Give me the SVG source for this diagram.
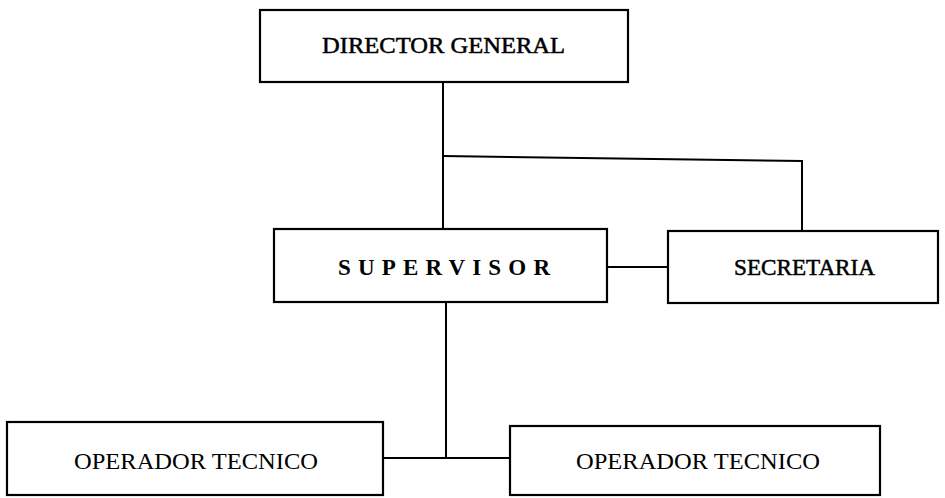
<svg xmlns="http://www.w3.org/2000/svg" width="945" height="498" viewBox="0 0 945 498">
<style>
.box{fill:#fff;stroke:#000;stroke-width:2.2}
.lbl{font-family:"Liberation Serif","Times New Roman",serif;font-size:23px;fill:#000}
.dark{stroke:#000;stroke-width:0.5}
.con{fill:none;stroke:#000;stroke-width:2}
</style>
<rect width="945" height="498" fill="#fff"/>
<g id="connectors">
<line class="con" x1="443" y1="82" x2="443" y2="229"/>
<polyline class="con" points="443,156 802,161 802,231"/>
<line class="con" x1="607" y1="267" x2="668" y2="267"/>
<line class="con" x1="446" y1="303" x2="446" y2="458"/>
<line class="con" x1="383" y1="458" x2="510" y2="458"/>
</g>
<g id="director">
<rect class="box" x="260" y="10" width="368" height="72"/>
<text class="lbl dark" x="322" y="53" textLength="243" lengthAdjust="spacingAndGlyphs">DIRECTOR GENERAL</text>
</g>
<g id="supervisor">
<rect class="box" x="274" y="229" width="333" height="73"/>
<text class="lbl" x="338" y="275" font-size="22" font-weight="bold" textLength="212" lengthAdjust="spacing">SUPERVISOR</text>
</g>
<g id="secretaria">
<rect class="box" x="668" y="231" width="270" height="72"/>
<text class="lbl dark" x="734" y="275" textLength="141" lengthAdjust="spacingAndGlyphs">SECRETARIA</text>
</g>
<g id="operador1">
<rect class="box" x="7" y="422" width="376" height="73"/>
<text class="lbl" x="74" y="469" textLength="244" lengthAdjust="spacingAndGlyphs">OPERADOR TECNICO</text>
</g>
<g id="operador2">
<rect class="box" x="510" y="426" width="370" height="69"/>
<text class="lbl" x="576" y="469" textLength="244" lengthAdjust="spacingAndGlyphs">OPERADOR TECNICO</text>
</g>
</svg>
